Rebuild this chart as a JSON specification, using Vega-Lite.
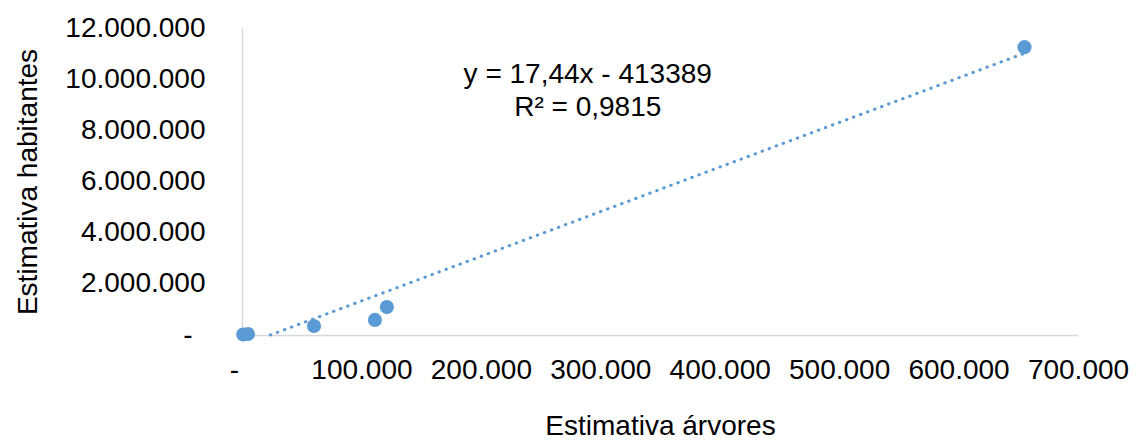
{
  "$schema": "https://vega.github.io/schema/vega-lite/v6.json",
  "autosize": {"type": "none"},
  "width": 836,
  "height": 307,
  "padding": {"left": 242, "top": 28, "right": 64, "bottom": 106},
  "background": "white",
  "config": {
    "locale": {"number": {"decimal": ",", "thousands": ".", "grouping": [3], "currency": ["R$", ""]}},
    "view": {"stroke": null},
    "font": "Liberation Sans"
  },
  "datasets": {
    "pts": [
      {"arvores": 1000, "habitantes": 20000},
      {"arvores": 5000, "habitantes": 40000},
      {"arvores": 60300, "habitantes": 350000},
      {"arvores": 111300, "habitantes": 590000},
      {"arvores": 121300, "habitantes": 1090000},
      {"arvores": 655200, "habitantes": 11250000}
    ],
    "trend": [
      {"arvores": 23700, "habitantes": 0},
      {"arvores": 655200, "habitantes": 11013300}
    ],
    "label": [
      {"arvores": 289500, "habitantes": 10150000, "txt": "y = 17,44x - 413389"},
      {"arvores": 289500, "habitantes": 8870000, "txt": "R² = 0,9815"}
    ]
  },
  "layer": [
    {
      "data": {"name": "trend"},
      "mark": {"type": "line", "color": "#5B9BD5", "strokeWidth": 3, "strokeCap": "round", "strokeDash": [0.5, 7]},
      "encoding": {
        "x": {
          "field": "arvores", "type": "quantitative",
          "scale": {"domain": [0, 700000], "nice": false, "zero": true},
          "axis": {
            "title": "Estimativa árvores",
            "titleFontSize": 28, "titleFontWeight": "normal", "titleColor": "#000", "titlePadding": 28,
            "labelFontSize": 28, "labelColor": "#000", "labelPadding": 21,
            "labelOffset": {"condition": {"test": "datum.value == 0", "value": -8}, "value": 0},
            "ticks": false, "grid": false, "domainColor": "#D9D9D9", "domainWidth": 1.5,
            "values": [0, 100000, 200000, 300000, 400000, 500000, 600000, 700000],
            "format": ",d",
            "labelExpr": "datum.value == 0 ? '-' : datum.label",
            "labelFlush": false, "labelOverlap": false
          }
        },
        "y": {
          "field": "habitantes", "type": "quantitative",
          "scale": {"domain": [0, 12000000], "nice": false},
          "axis": {
            "title": "Estimativa habitantes",
            "titleFontSize": 28, "titleFontWeight": "normal", "titleColor": "#000", "titlePadding": 22,
            "labelFontSize": 28, "labelColor": "#000",
            "labelPadding": {"condition": {"test": "datum.value == 0", "value": 50}, "value": 37},
            "ticks": false, "grid": false, "domainColor": "#D9D9D9", "domainWidth": 1.5,
            "values": [0, 2000000, 4000000, 6000000, 8000000, 10000000, 12000000],
            "format": ",d",
            "labelExpr": "datum.value == 0 ? '-' : datum.label",
            "labelOverlap": false
          }
        }
      }
    },
    {
      "data": {"name": "pts"},
      "mark": {"type": "circle", "color": "#5B9BD5", "opacity": 1, "size": 200},
      "encoding": {
        "x": {"field": "arvores", "type": "quantitative"},
        "y": {"field": "habitantes", "type": "quantitative"}
      }
    },
    {
      "data": {"name": "label"},
      "mark": {"type": "text", "fontSize": 28, "color": "#000", "align": "center", "baseline": "middle"},
      "encoding": {
        "x": {"field": "arvores", "type": "quantitative"},
        "y": {"field": "habitantes", "type": "quantitative"},
        "text": {"field": "txt"}
      }
    }
  ]
}
